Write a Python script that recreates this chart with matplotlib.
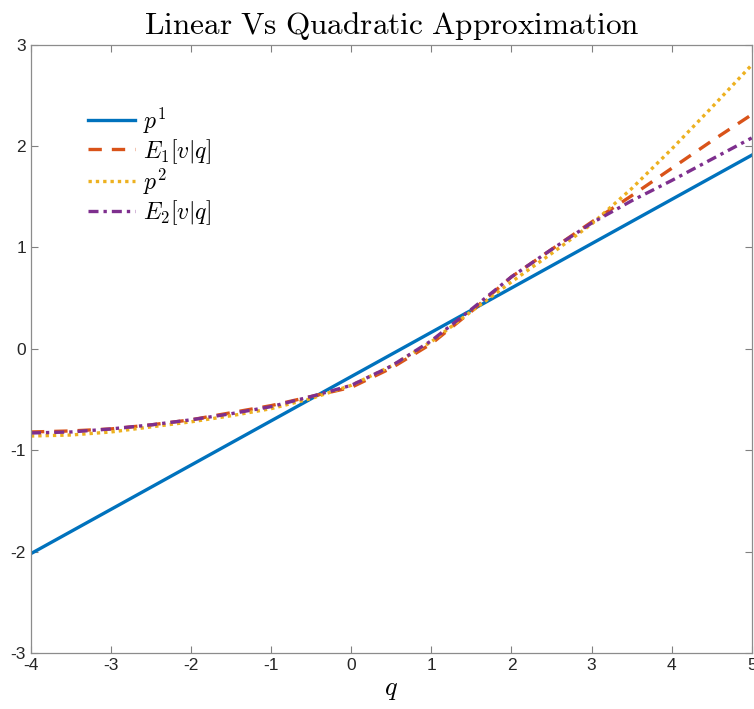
# Linear vs quadratic approximation, redrawn from a MATLAB figure
import matplotlib.pyplot as plt

plt.rcParams['mathtext.fontset'] = 'cm'
plt.rcParams['font.family'] = ['Liberation Sans', 'DejaVu Sans']
plt.rcParams['axes.unicode_minus'] = False

# Values
q = [-4, -3.5, -3, -2.5, -2, -1.5, -1, -0.5, 0, 0.5, 1, 1.5, 2, 2.5, 3, 3.5, 4, 4.5, 5]
q_lin = [-4, 5]
p1 = [-2.02, 1.91]
e1 = [-0.82, -0.81, -0.79, -0.75, -0.70, -0.63, -0.56, -0.47, -0.38, -0.19,
      0.05, 0.37, 0.71, 0.98, 1.25, 1.51, 1.78, 2.05, 2.31]
p2 = [-0.86, -0.85, -0.82, -0.77, -0.72, -0.66, -0.59, -0.49, -0.36, -0.17,
      0.07, 0.37, 0.66, 0.94, 1.23, 1.58, 1.97, 2.38, 2.80]
e2 = [-0.83, -0.82, -0.79, -0.75, -0.70, -0.64, -0.57, -0.47, -0.36, -0.17,
      0.08, 0.39, 0.71, 0.98, 1.24, 1.46, 1.66, 1.87, 2.08]

labels = [r'$p^1$', r'$E_1[v|q]$', r'$p^2$', r'$E_2[v|q]$']
x_ticks = [-4, -3, -2, -1, 0, 1, 2, 3, 4, 5]
y_ticks = [-3, -2, -1, 0, 1, 2, 3]

fig = plt.figure(figsize=(7.54, 7.09), dpi=100)
ax = fig.add_axes([0.041, 0.079, 0.956, 0.858])

ax.plot(q_lin, p1, color='#0072BD', linestyle='-', linewidth=2.4, label=labels[0])
ax.plot(q, e1, color='#D95319', linestyle=(0, (4, 3)), linewidth=2.4, label=labels[1])
ax.plot(q, p2, color='#EDB120', linestyle=(0, (1, 1.2)), linewidth=2.4, label=labels[2])
ax.plot(q, e2, color='#7E2F8E', linestyle=(0, (3, 1.5, 1, 1.5)), linewidth=2.4, label=labels[3])

ax.set_xlim(-4, 5)
ax.set_ylim(-3, 3)
ax.set_xticks(x_ticks)
ax.set_yticks(y_ticks)
ax.tick_params(direction='in', top=True, right=True, length=5, width=0.8,
               color='#808080', labelcolor='#262626', labelsize=12.5)
for s in ax.spines.values():
    s.set_color('#8c8c8c')
    s.set_linewidth(0.9)

ax.set_title(r'$\mathrm{Linear\ Vs\ Quadratic\ Approximation}$', fontsize=22.5, pad=8)
ax.set_xlabel(r'$q$', fontsize=19, labelpad=4)

ax.legend(loc='upper left', bbox_to_anchor=(0.05, 0.935), frameon=False,
          fontsize=17, handlelength=2.0, handletextpad=0.3, labelspacing=0.05)

plt.savefig('out.png', dpi=100)
